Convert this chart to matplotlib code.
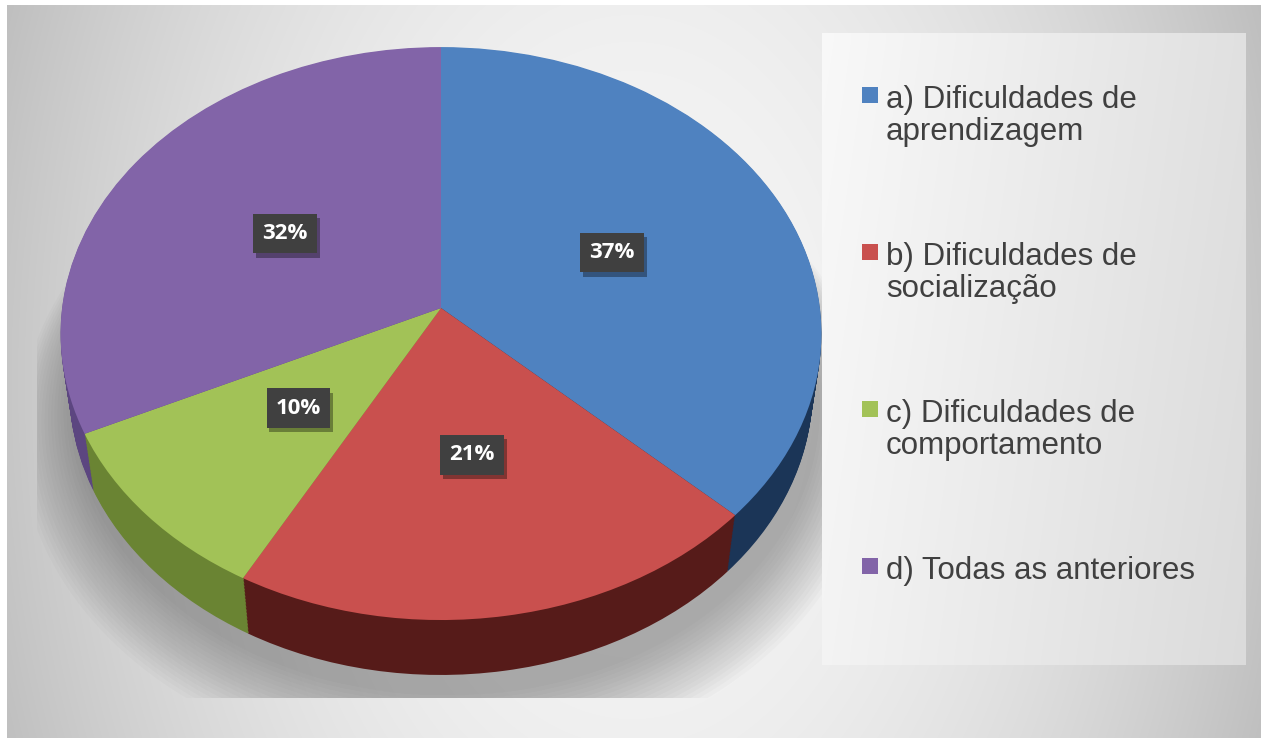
import numpy as np
import matplotlib
matplotlib.use("Agg")
import matplotlib.pyplot as plt
import matplotlib.transforms as mtransforms
import matplotlib.patheffects as pe
from matplotlib.patches import Rectangle

# ---- data ----
categories = ["a) Dificuldades de\naprendizagem",
              "b) Dificuldades de\nsocialização",
              "c) Dificuldades de\ncomportamento",
              "d) Todas as anteriores"]
values = [37, 21, 10, 32]
top_colors = ["#4F82C0", "#C9504E", "#A2C257", "#8264A8"]
side_colors = ["#1B3557", "#561B19", "#6A8433", "#5C4680"]

W, H = 1263, 738
fig = plt.figure(figsize=(W / 100, H / 100), dpi=100)
fig.patch.set_facecolor("white")

# ---- background gradients ----
bg = fig.add_axes([0, 0, 1, 1])
bg.set_axis_off()
X, Y = np.meshgrid(np.arange(W), np.arange(H))
dx = (X - 632) / 630.0
dy = (Y - 380) / 380.0
v = 0.965 - 0.19 * dx ** 2 - 0.03 * dy ** 2
outer = (X >= 7) & (X <= 1260) & (Y >= 5)
v = np.where(outer, v, 1.0)
img = np.dstack([v, v, v])
bg.imshow(img, extent=(0, W, H, 0), aspect="auto", interpolation="bilinear")
bg.set_xlim(0, W)
bg.set_ylim(H, 0)

# ---- perspective view of a tilted disc ----
CX, CY = 441.0, 308.0      # pie centre in pixels (y down)
F, DIST = 2804.0, 7.4
S, C = 0.75, 0.66          # sin/cos of tilt
THICK = 0.235


class Persp(mtransforms.Transform):
    input_dims = output_dims = 2
    is_separable = False
    has_inverse = False

    def __init__(self, w=0.0):
        super().__init__()
        self.w = w

    def transform_non_affine(self, values):
        values = np.asarray(values, dtype=float).reshape(-1, 2)
        u, vv = values[:, 0], values[:, 1]
        Yw = vv * S + self.w * C
        Zw = DIST + vv * C - self.w * S
        px = CX + F * u / Zw
        py = CY - F * Yw / Zw
        return np.column_stack([px / W, 1.0 - py / H])


ax = fig.add_axes([0, 0, 1, 1])
ax.set_facecolor("none")
ax.set_axis_off()

# soft shadow under the pie, clipped to the plot area
clip_rect = Rectangle((37 / W, 1 - 698 / H), (846 - 37) / W, (698 - 33) / H,
                      transform=fig.transFigure, facecolor="none", edgecolor="none")
fig.patches.append(clip_rect)
theta = np.linspace(0, 2 * np.pi, 361)
for k in range(18):
    s = 1.0 + 0.008 * k
    poly = ax.fill(s * np.cos(theta) + 0.015, s * np.sin(theta) - 0.06 - 0.004 * k,
                   color="#4a4a4a", alpha=0.028, linewidth=0, zorder=1,
                   transform=Persp(-THICK) + fig.transFigure)[0]
    poly.set_clip_path(clip_rect)

# legend panel (drawn above the shadow)
grad = np.linspace(0.975, 0.88, 200)[None, :] * np.ones((50, 1))
grad = grad - np.linspace(0, 0.02, 50)[:, None]
lp_ax = fig.add_axes([822 / W, 1 - 665 / H, (1246 - 822) / W, (665 - 33) / H])
lp_ax.imshow(np.dstack([grad, grad, grad]), aspect="auto",
             extent=(0, 1, 0, 1), interpolation="bilinear")
lp_ax.set_axis_off()

# pie axes on top
pax = fig.add_axes([0, 0, 1, 1])
pax.set_facecolor("none")
pax.set_axis_off()

for d in np.linspace(THICK, 0.003, 40):
    pax.pie(values, colors=side_colors, startangle=90, counterclock=False,
            radius=1.0,
            wedgeprops=dict(linewidth=0, zorder=2,
                            transform=Persp(-d) + fig.transFigure))

top_tr = Persp(0.0) + fig.transFigure
wedges, texts, autotexts = pax.pie(
    values, colors=top_colors, startangle=90, counterclock=False,
    radius=1.0, autopct="%1.0f%%", pctdistance=0.5,
    wedgeprops=dict(linewidth=0, zorder=3, transform=top_tr),
    textprops=dict(color="white", fontsize=16, fontweight="bold",
                   family=["Open Sans", "DejaVu Sans"], zorder=5,
                   transform=top_tr))
for t in autotexts:
    t.set_bbox(dict(boxstyle="square,pad=0.42", facecolor="#404040",
                    edgecolor="none"))
    t.get_bbox_patch().set_path_effects(
        [pe.SimplePatchShadow(offset=(2, -3), shadow_rgbFace="#000000", alpha=0.35),
         pe.Normal()])
    t.set_zorder(5)

pax.set_xlim(0, 1)
pax.set_ylim(0, 1)

# ---- legend ----
for i, (lab, col) in enumerate(zip(categories, top_colors)):
    ytop = 85 + i * 157
    fig.patches.append(Rectangle((862 / W, 1 - (ytop + 18) / H), 16 / W, 16 / H,
                                 transform=fig.transFigure, facecolor=col,
                                 edgecolor="none", zorder=6))
    fig.text(886 / W, 1 - ytop / H, lab, ha="left", va="top",
             fontsize=22.5, color="#404040",
             family=["Liberation Sans", "DejaVu Sans"],
             linespacing=1.09, zorder=6)

fig.savefig("out.png", dpi=100)
